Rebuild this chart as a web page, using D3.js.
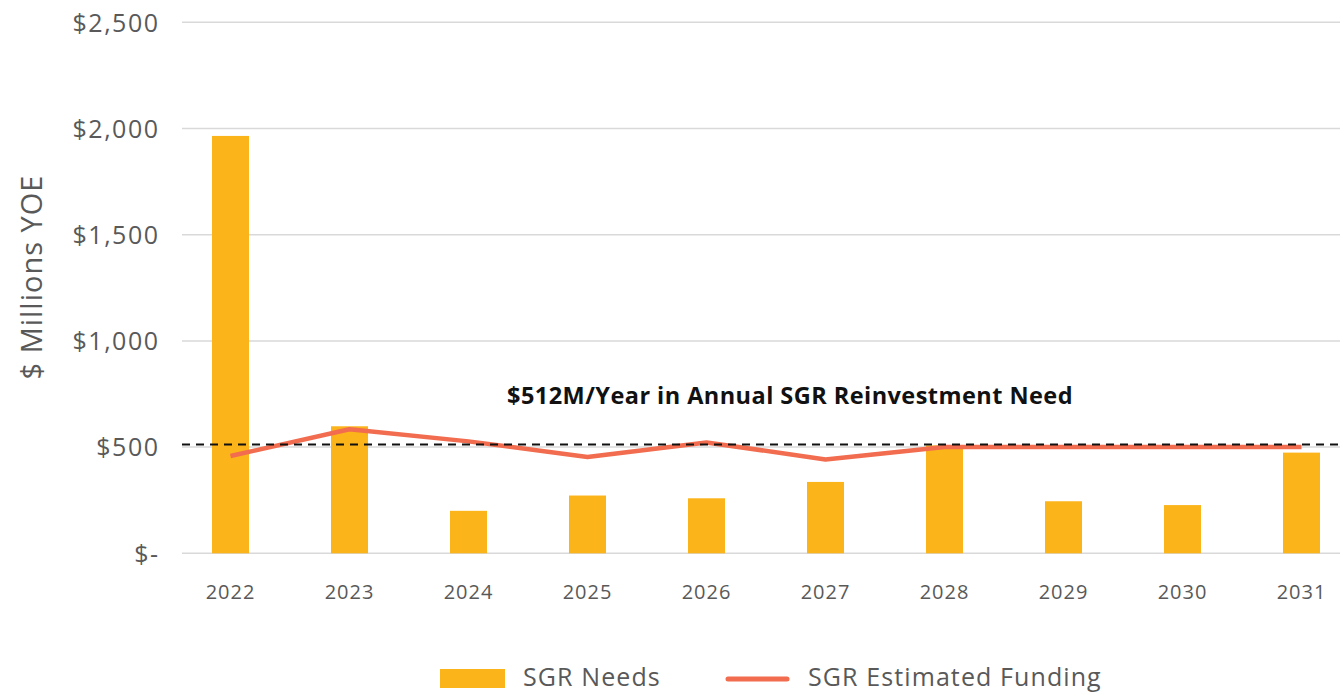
<!DOCTYPE html>
<html>
<head>
<meta charset="utf-8">
<script src="https://cdn.jsdelivr.net/npm/d3@7"></script>
<style>
  body { margin: 0; background: #fff; }
  svg { display: block; font-family: "Open Sans", Lato, sans-serif; }
</style>
</head>
<body>
<div id="container"></div>
<script>
/* DATA */
const years = ["2022", "2023", "2024", "2025", "2026", "2027", "2028", "2029", "2030", "2031"];
const sgrNeeds = [1965, 598, 200, 272, 259, 336, 508, 245, 227, 474];
const sgrFunding = [458, 584, 527, 453, 522, 442, 500, 500, 500, 500];
const annualNeed = 512;
const yTicks = [0, 500, 1000, 1500, 2000, 2500];
const yTickLabels = ["$-", "$500", "$1,000", "$1,500", "$2,000", "$2,500"];

const W = 1340, H = 694;
const barColor = "#FBB419", lineColor = "#F26C4F";
const textColor = "#595959";

const svg = d3.select("#container")
  .append("svg")
  .attr("width", W)
  .attr("height", H);

// scales
const xScale = d3.scaleBand()
  .domain(years)
  .range([171, 1361])
  .paddingInner(0.689)
  .paddingOuter(0.3445);

const yScale = d3.scaleLinear()
  .domain([0, 2500])
  .range([553.3, 22.3]);

// gridlines
svg.append("g")
  .selectAll("line")
  .data(yTicks)
  .join("line")
  .attr("x1", 182)
  .attr("x2", 1340)
  .attr("y1", d => yScale(d))
  .attr("y2", d => yScale(d))
  .attr("stroke", "#d9d9d9")
  .attr("stroke-width", 1.5);

// y axis labels
const yAxis = svg.append("g")
  .attr("transform", "translate(159.5,0)")
  .call(d3.axisLeft(yScale).tickValues(yTicks).tickFormat((d, i) => yTickLabels[i]).tickSize(0).tickPadding(0));
yAxis.select(".domain").remove();
yAxis.selectAll("text")
  .attr("font-family", "'Open Sans', sans-serif")
  .attr("font-size", 25)
  .attr("letter-spacing", 1.5)
  .attr("fill", textColor)
  .attr("dy", "0.35em");

svg.append("text")
  .attr("transform", "translate(42,277) rotate(-90)")
  .attr("text-anchor", "middle")
  .attr("font-size", 29)
  .attr("letter-spacing", 1)
  .attr("fill", textColor)
  .text("$ Millions YOE");

// x axis labels
const xAxis = svg.append("g")
  .attr("transform", "translate(0,553)")
  .call(d3.axisBottom(xScale).tickSize(0).tickPadding(32));
xAxis.select(".domain").remove();
xAxis.selectAll("text")
  .attr("font-family", "'Open Sans', sans-serif")
  .attr("font-size", 20)
  .attr("letter-spacing", 1)
  .attr("fill", textColor);

// bars
svg.append("g")
  .selectAll("rect")
  .data(years)
  .join("rect")
  .attr("x", d => xScale(d))
  .attr("width", xScale.bandwidth())
  .attr("y", (d, i) => yScale(sgrNeeds[i]))
  .attr("height", (d, i) => yScale(0) - yScale(sgrNeeds[i]))
  .attr("fill", barColor);

// funding line
const line = d3.line()
  .x((d, i) => xScale(years[i]) + xScale.bandwidth() / 2)
  .y(d => yScale(d));

svg.append("path")
  .datum(sgrFunding)
  .attr("d", line)
  .attr("fill", "none")
  .attr("stroke", lineColor)
  .attr("stroke-width", 4.5)
  .attr("stroke-linejoin", "round");

// annual need reference
svg.append("line")
  .attr("x1", 182)
  .attr("x2", 1340)
  .attr("y1", yScale(annualNeed))
  .attr("y2", yScale(annualNeed))
  .attr("stroke", "#111")
  .attr("stroke-width", 2)
  .attr("stroke-dasharray", "8,6");

svg.append("text")
  .attr("x", 790)
  .attr("y", 404)
  .attr("text-anchor", "middle")
  .attr("font-weight", 700)
  .attr("font-size", 23.5)
  .attr("letter-spacing", 0.45)
  .attr("fill", "#111")
  .text("$" + annualNeed + "M/Year in Annual SGR Reinvestment Need");

// legend
const legend = svg.append("g");
legend.append("rect")
  .attr("x", 440).attr("y", 669)
  .attr("width", 65).attr("height", 19)
  .attr("fill", barColor);
legend.append("text")
  .attr("x", 523).attr("y", 686)
  .attr("font-size", 25).attr("letter-spacing", 1.1).attr("fill", textColor)
  .text("SGR Needs");
legend.append("line")
  .attr("x1", 728).attr("x2", 787)
  .attr("y1", 679).attr("y2", 679)
  .attr("stroke", lineColor).attr("stroke-width", 5)
  .attr("stroke-linecap", "round");
legend.append("text")
  .attr("x", 808).attr("y", 686)
  .attr("font-size", 25).attr("letter-spacing", 1.1).attr("fill", textColor)
  .text("SGR Estimated Funding");
</script>
</body>
</html>
